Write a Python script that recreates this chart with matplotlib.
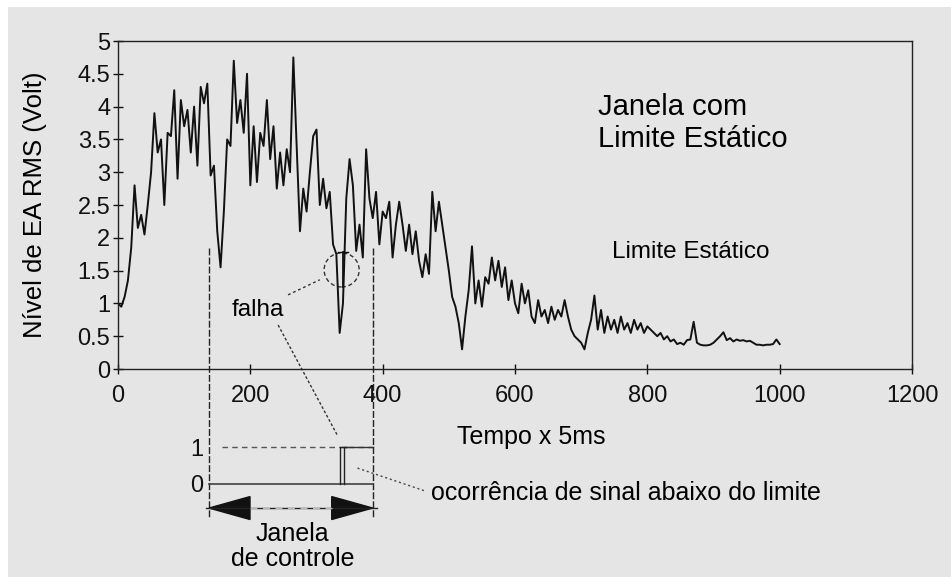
import numpy as np
import matplotlib.pyplot as plt
from matplotlib.patches import Ellipse, Rectangle

plt.rcParams['font.family'] = ['Liberation Sans', 'DejaVu Sans']

# nivel RMS de EA, uma amostra a cada 5 unidades de tempo (0 .. 1000)
nivel = [
    1.0, 0.95, 1.1, 1.35, 1.85, 2.8, 2.15, 2.35, 2.05, 2.5,
    3.0, 3.9, 3.3, 3.5, 2.5, 3.6, 3.55, 4.25, 2.9, 4.1,
    3.7, 3.95, 3.3, 4.0, 3.1, 4.3, 4.05, 4.35, 2.95, 3.1,
    2.1, 1.55, 2.4, 3.5, 3.4, 4.7, 3.75, 4.1, 3.6, 4.5,
    2.8, 3.7, 2.85, 3.6, 3.4, 4.1, 3.2, 3.7, 2.75, 3.3,
    2.8, 3.35, 3.0, 4.75, 3.4, 2.1, 2.75, 2.4, 3.0, 3.55,
    3.65, 2.5, 2.9, 2.45, 2.7, 1.9, 1.75, 0.55, 1.0, 2.6,
    3.2, 2.8, 1.8, 2.2, 1.7, 3.35, 2.6, 2.3, 2.7, 1.9,
    2.4, 2.3, 2.55, 1.7, 2.2, 2.55, 2.2, 1.8, 2.2, 1.75,
    2.1, 1.65, 1.4, 1.75, 1.45, 2.7, 2.1, 2.55, 2.2, 1.85,
    1.5, 1.1, 0.95, 0.7, 0.3, 0.8, 1.2, 1.87, 1.0, 1.35,
    0.95, 1.4, 1.3, 1.7, 1.35, 1.65, 1.25, 1.55, 1.05, 1.35,
    1.0, 0.85, 1.3, 1.0, 1.2, 0.8, 0.7, 1.05, 0.8, 0.9,
    0.7, 0.95, 0.75, 0.9, 0.8, 1.05, 0.8, 0.6, 0.5, 0.45,
    0.4, 0.3, 0.55, 0.75, 1.12, 0.6, 0.9, 0.55, 0.8, 0.6,
    0.75, 0.55, 0.8, 0.6, 0.7, 0.55, 0.75, 0.6, 0.7, 0.55,
    0.65, 0.6, 0.55, 0.5, 0.55, 0.45, 0.5, 0.42, 0.45, 0.38,
    0.4, 0.37, 0.44, 0.45, 0.72, 0.4, 0.37, 0.36, 0.36, 0.37,
    0.4, 0.45, 0.5, 0.56, 0.44, 0.47, 0.42, 0.45, 0.43, 0.44,
    0.42, 0.43, 0.4, 0.37, 0.37, 0.36, 0.37, 0.37, 0.38, 0.45,
    0.38,
]
tempo = np.arange(len(nivel)) * 5

yticks = [0, 0.5, 1, 1.5, 2, 2.5, 3, 3.5, 4, 4.5, 5]
ytick_labels = ['0', '0.5', '1', '1.5', '2', '2.5', '3', '3.5', '4', '4.5', '5']
xticks = [0, 200, 400, 600, 800, 1000, 1200]

limite = 1.8              # limite estatico (V)
janela = (137.5, 385)     # inicio e fim da janela de controle
falha_x = 338             # instante da falha
pulso = (335, 342)        # sinal abaixo do limite (0/1)

fig = plt.figure(figsize=(9.51, 5.77), dpi=100)
fig.patch.set_facecolor('white')
fig.add_artist(Rectangle((8 / 951, 0), 1, 570 / 577, transform=fig.transFigure,
                         facecolor='#e5e5e5', edgecolor='none', zorder=-10))

ax = fig.add_axes([118 / 951, 208 / 577, 794 / 951, 328 / 577])
ax.set_facecolor('none')
ax.plot(tempo, nivel, color='#111111', lw=1.4)

ax.set_xlim(0, 1200)
ax.set_ylim(0, 5)
ax.set_xticks(xticks)
ax.set_yticks(yticks)
ax.set_yticklabels(ytick_labels)
ax.tick_params(axis='both', direction='inout', length=7, width=1, labelsize=17, colors='#111111')
ax.tick_params(axis='x', pad=8)
ax.tick_params(axis='y', pad=2)
for s in ax.spines.values():
    s.set_color('#222222')
    s.set_linewidth(1.0)

ax.set_ylabel('Nível de EA RMS (Volt)', fontsize=18.5, va='center')
ax.yaxis.set_label_coords(-0.105, 0.5)
ax.set_xlabel('Tempo x 5ms', fontsize=18, va='center')
ax.xaxis.set_label_coords(0.521, -0.207)

ax.text(725, 3.75, 'Janela com\nLimite Estático', fontsize=21, ha='left', va='center',
        linespacing=1.2)
ax.text(746, 1.78, 'Limite Estático', fontsize=17.5, ha='left', va='center')

# linhas da janela de controle (descem ate as setas)
for xj in janela:
    ax.plot([xj, xj], [limite + 0.04, -2.26], color='#222222', lw=1.0,
            ls=(0, (5, 1.5)), clip_on=False)

# marcacao da falha
ax.add_patch(Ellipse((falha_x, 1.51), 53, 0.52, fill=False, ls=(0, (3, 2)),
                     lw=1.0, edgecolor='#333333'))
ax.plot([falha_x + 2, falha_x + 2], [1.25, limite - 0.02], color='#111111', lw=1.3)
ax.plot([falha_x - 6, falha_x + 9], [limite - 0.02, limite - 0.02], color='#111111', lw=1.0)
ax.text(211, 0.9, 'falha', fontsize=17.5, ha='center', va='center')
ax.plot([257, 305], [1.13, 1.36], color='#333333', lw=1.0, ls=(0, (2, 2)))
ax.plot([242, 331], [0.67, -1.0], color='#333333', lw=1.0, ls=(0, (2, 1.5)), clip_on=False)

# sinal de ocorrencia (0/1) sob a janela
ax2 = fig.add_axes([118 / 951, 56 / 577, 794 / 951, 111 / 577])
ax2.set_facecolor('none')
ax2.set_xlim(0, 1200)
ax2.set_ylim(-1, 2)
for s in ax2.spines.values():
    s.set_visible(False)
ax2.set_xticks([])
ax2.yaxis.set_ticks_position('left')
ax2.spines['left'].set_position(('data', janela[0]))
ax2.set_yticks([0, 1])
ax2.set_yticklabels(['0', '1'])
ax2.tick_params(axis='y', length=0, pad=4, labelsize=17, colors='#111111')

ax2.plot([janela[0] + 20, janela[1]], [1, 1], color='#555555', lw=1.0, ls=(0, (4, 3)))
ax2.plot([janela[0], janela[1]], [0, 0], color='#333333', lw=1.1)
ax2.plot([pulso[0], pulso[0], pulso[1] + 4, pulso[1], pulso[1]],
         [0, 1, 1, 1, 0], color='#222222', lw=1.0)
ax2.plot([pulso[1] + 4, janela[1]], [1, 1], color='#333333', lw=1.0)

# setas da janela
ya = -0.65
cab = 62
meia = 0.31
ax2.fill([janela[0], janela[0] + cab, janela[0] + cab], [ya, ya + meia, ya - meia],
         color='#111111', clip_on=False)
ax2.fill([janela[1], janela[1] - cab, janela[1] - cab], [ya, ya + meia, ya - meia],
         color='#111111', clip_on=False)
ax2.plot([janela[0] - 4, janela[1] + 6], [ya, ya], color='#222222', lw=1.0, clip_on=False)
ax2.plot([janela[0] + cab, janela[1] - cab], [ya, ya], color='#bbbbbb', lw=1.0,
         ls=(0, (5, 4)), clip_on=False)
ax2.text((janela[0] + janela[1]) / 2 + 3, -1.69, 'Janela\nde controle', fontsize=18,
         ha='center', va='center', linespacing=1.05)

ax2.plot([362, 466], [0.43, -0.2], color='#444444', lw=1.0, ls=(0, (1.5, 2)), clip_on=False)
ax2.text(473, -0.25, 'ocorrência de sinal abaixo do limite', fontsize=18,
         ha='left', va='center')

fig.savefig('out.png', dpi=100)
